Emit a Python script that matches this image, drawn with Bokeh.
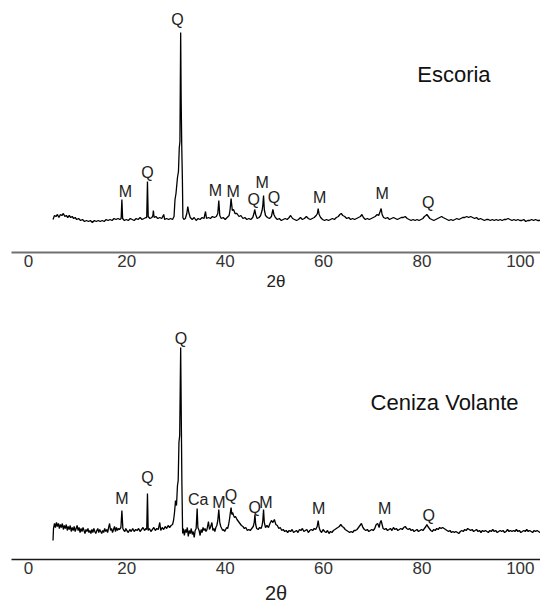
from bokeh.plotting import figure
from bokeh.models import Range1d, FixedTicker, ColumnDataSource
from bokeh.layouts import column
from bokeh.core.properties import value
from bokeh.embed import file_html
from bokeh.resources import INLINE

FONT = "Liberation Sans"

# ---------------- Escoria (top) : 2theta / intensity (a.u., baseline = 0) -------------
esc_theta = [
    5.0, 5.3, 5.6, 5.9, 6.2, 6.5, 6.8, 7.1, 7.4, 7.7,
    8.0, 8.3, 8.6, 8.9, 9.2, 9.5, 9.8, 10.2, 10.6, 11.0,
    11.4, 11.8, 12.2, 12.6, 13.0, 13.4, 13.8, 14.2, 14.6, 15.0,
    15.4, 15.8, 16.2, 16.6, 17.0, 17.4, 17.8, 18.2, 18.6, 18.85,
    19.0, 19.15, 19.5, 19.9, 20.3, 20.7, 21.1, 21.5, 21.9, 22.3,
    22.7, 23.1, 23.5, 23.9, 24.05, 24.2, 24.35, 24.7, 25.1, 25.3,
    25.4, 25.55, 25.9, 26.3, 26.7, 27.1, 27.5, 27.7, 28.1, 28.5,
    28.9, 29.3, 29.6, 29.8, 30.0, 30.3, 30.5, 30.67, 30.8, 30.95,
    31.05, 31.17, 31.3, 31.4, 31.6, 31.9, 32.2, 32.4, 32.6, 32.9,
    33.3, 33.7, 34.1, 34.5, 34.9, 35.3, 35.7, 36.0, 36.2, 36.6,
    37.0, 37.4, 37.8, 38.2, 38.5, 38.7, 38.9, 39.2, 39.6, 40.0,
    40.4, 40.8, 41.0, 41.2, 41.45, 41.7, 42.0, 42.4, 42.8, 43.2,
    43.6, 44.0, 44.4, 44.8, 45.2, 45.6, 45.85, 46.0, 46.2, 46.5,
    46.9, 47.2, 47.5, 47.65, 47.8, 47.95, 48.2, 48.6, 49.0, 49.4,
    49.7, 49.9, 50.2, 50.6, 51.0, 51.4, 51.8, 52.2, 52.6, 53.0,
    53.3, 53.7, 54.1, 54.5, 54.9, 55.3, 55.7, 56.1, 56.5, 56.9,
    57.3, 57.7, 58.1, 58.5, 58.75, 58.9, 59.1, 59.4, 59.8, 60.2,
    60.6, 61.0, 61.4, 61.8, 62.2, 62.6, 63.0, 63.3, 63.6, 63.9,
    64.3, 64.7, 65.1, 65.5, 65.9, 66.3, 66.7, 67.1, 67.5, 67.8,
    68.1, 68.5, 68.9, 69.3, 69.7, 70.1, 70.5, 70.9, 71.2, 71.5,
    71.7, 71.9, 72.2, 72.6, 73.0, 73.4, 73.8, 74.2, 74.6, 75.0,
    75.4, 75.8, 76.2, 76.6, 77.0, 77.4, 77.8, 78.2, 78.6, 79.0,
    79.4, 79.8, 80.2, 80.5, 80.8, 81.0, 81.3, 81.6, 82.0, 82.4,
    82.8, 83.2, 83.6, 84.0, 84.3, 84.7, 85.1, 85.5, 85.9, 86.3,
    86.7, 87.1, 87.5, 87.9, 88.3, 88.7, 89.1, 89.5, 89.9, 90.3,
    90.7, 91.1, 91.5, 91.9, 92.3, 92.7, 93.1, 93.5, 93.9, 94.3,
    94.7, 95.1, 95.5, 95.9, 96.3, 96.7, 97.1, 97.5, 97.9, 98.3,
    98.7, 99.1, 99.5, 99.9, 100.3, 100.7, 101.1, 101.5, 101.9, 102.3,
    102.7, 103.1, 103.5, 103.9, 104.3,
]
esc_int = [
    0, 4, 3, 5, 2, 5, 4, 6, 3, 4,
    2, 4, 2, 3, 1, 2, 0, 1, -1, 0,
    -2, -1, -2, -1, -3, -1, -2, -1, -2, -1,
    -2, 0, -1, 0, -1, 1, 0, 1, 0, 1,
    20, 1, -1, 0, -1, 1, 0, -1, 1, 0,
    2, 0, 1, 2, 2, 38, 3, 1, 2, 4,
    9, 2, 3, 1, 2, 1, 5, 0, 1, 0,
    1, 0, 3, 20, 26, 42, 48, 72, 78, 187,
    120, 73, 40, 2, 0, 1, 6, 13, 7, 2,
    0, 2, -1, 1, 0, 2, 1, 8, 1, 2,
    1, 3, 2, 3, 6, 19, 4, 1, 2, 0,
    2, 4, 10, 21, 9, 10, 6, 6, 3, 4,
    1, 2, 0, 1, 0, 2, 6, 10, 5, 1,
    2, 4, 9, 14, 24, 10, 4, 2, 1, 3,
    10, 5, 2, 0, 1, -1, 0, 1, 0, 2,
    4, 1, 0, -1, 0, 2, 0, 1, 3, 1,
    0, 1, 2, 4, 6, 11, 5, 2, 0, -1,
    0, -1, 0, 1, 0, 2, 3, 5, 6, 4,
    3, 1, 2, 0, 1, 0, 1, 2, 3, 5,
    2, 0, 1, 0, 1, 2, 3, 5, 4, 8,
    11, 5, 2, 1, 2, 0, 1, 2, 1, 0,
    1, 2, 2, 3, 1, 0, -1, 0, -1, 0,
    -1, 0, 1, 3, 4, 5, 3, 1, 0, -1,
    0, 1, 2, 3, 2, 1, 0, -1, 0, -1,
    0, 1, 0, 1, 2, 2, 3, 2, 3, 2,
    1, 2, 0, 1, 0, -1, 0, 0, -1, 0,
    -1, 0, -1, 0, -1, 0, 0, 1, 0, -1,
    0, -1, 0, -1, -1, 0, -2, -1, -1, 0,
    -1, 0, -1, -1, 0,
]
esc_labels = ["M", "Q", "Q", "M", "M", "Q", "M", "Q", "M", "M", "Q"]
esc_label_x = [19.7, 24.2, 30.3, 38.0, 41.6, 45.8, 47.5, 49.9, 59.2, 71.9, 81.3]
esc_label_y = [28, 47, 200, 29, 28, 20, 37, 22, 22, 26, 17]
esc_title = "Escoria"
esc_title_x, esc_title_y = 86.5, 145

# ---------------- Ceniza Volante (bottom) ----------------
cv_theta = [
    5.0, 5.1, 5.3, 5.5, 5.7, 5.9, 6.1, 6.3, 6.5, 6.7,
    6.9, 7.1, 7.3, 7.5, 7.7, 7.9, 8.1, 8.3, 8.5, 8.7,
    8.9, 9.1, 9.3, 9.5, 9.7, 9.9, 10.1, 10.3, 10.5, 10.7,
    10.9, 11.1, 11.3, 11.5, 11.7, 11.9, 12.1, 12.3, 12.5, 12.7,
    12.9, 13.1, 13.3, 13.5, 13.7, 13.9, 14.1, 14.3, 14.5, 14.7,
    14.9, 15.1, 15.3, 15.5, 15.7, 15.9, 16.1, 16.3, 16.5, 16.7,
    16.9, 17.1, 17.3, 17.5, 17.7, 17.9, 18.1, 18.3, 18.5, 18.8,
    19.0, 19.2, 19.4, 19.6, 19.8, 20.0, 20.3, 20.6, 20.9, 21.2,
    21.5, 21.8, 22.1, 22.4, 22.7, 23.0, 23.3, 23.6, 23.9, 24.05,
    24.2, 24.35, 24.6, 24.9, 25.2, 25.5, 25.8, 26.1, 26.4, 26.7,
    26.9, 27.2, 27.5, 27.8, 28.1, 28.4, 28.7, 29.0, 29.3, 29.5,
    29.7, 29.9, 30.1, 30.3, 30.45, 30.6, 30.75, 30.95, 31.1, 31.2,
    31.35, 31.5, 31.7, 31.9, 32.1, 32.3, 32.5, 32.7, 32.9, 33.1,
    33.3, 33.5, 33.7, 33.9, 34.1, 34.3, 34.45, 34.7, 34.9, 35.1,
    35.3, 35.5, 35.7, 35.9, 36.1, 36.3, 36.6, 36.8, 37.0, 37.3,
    37.5, 37.7, 37.9, 38.1, 38.3, 38.5, 38.7, 38.9, 39.1, 39.3,
    39.5, 39.7, 39.9, 40.1, 40.3, 40.5, 40.7, 40.9, 41.05, 41.2,
    41.35, 41.5, 41.7, 41.9, 42.1, 42.4, 42.7, 43.0, 43.3, 43.6,
    43.9, 44.2, 44.5, 44.8, 45.1, 45.4, 45.7, 45.9, 46.05, 46.2,
    46.4, 46.7, 47.0, 47.3, 47.5, 47.65, 47.8, 47.95, 48.2, 48.5,
    48.8, 49.1, 49.4, 49.7, 50.0, 50.3, 50.6, 50.9, 51.2, 51.5,
    51.8, 52.1, 52.4, 52.7, 53.0, 53.3, 53.6, 53.9, 54.2, 54.5,
    54.8, 55.1, 55.4, 55.7, 56.0, 56.3, 56.6, 56.9, 57.2, 57.5,
    57.8, 58.1, 58.4, 58.7, 58.9, 59.1, 59.3, 59.6, 59.9, 60.2,
    60.5, 60.8, 61.1, 61.4, 61.7, 62.0, 62.3, 62.6, 62.9, 63.2,
    63.5, 63.8, 64.1, 64.4, 64.7, 65.0, 65.3, 65.6, 65.9, 66.2,
    66.5, 66.8, 67.1, 67.4, 67.7, 68.0, 68.3, 68.6, 68.9, 69.2,
    69.5, 69.8, 70.1, 70.4, 70.7, 71.0, 71.3, 71.5, 71.7, 71.9,
    72.1, 72.4, 72.7, 73.0, 73.3, 73.6, 73.9, 74.2, 74.5, 74.8,
    75.1, 75.4, 75.7, 76.0, 76.3, 76.6, 76.9, 77.2, 77.5, 77.8,
    78.1, 78.4, 78.7, 79.0, 79.3, 79.6, 79.9, 80.2, 80.5, 80.8,
    81.0, 81.2, 81.5, 81.8, 82.1, 82.4, 82.7, 83.0, 83.3, 83.6,
    83.9, 84.2, 84.5, 84.8, 85.1, 85.4, 85.7, 86.0, 86.3, 86.6,
    86.9, 87.2, 87.5, 87.8, 88.1, 88.4, 88.7, 89.0, 89.3, 89.6,
    89.9, 90.2, 90.5, 90.8, 91.1, 91.4, 91.7, 92.0, 92.3, 92.6,
    92.9, 93.2, 93.5, 93.8, 94.1, 94.4, 94.7, 95.0, 95.3, 95.6,
    95.9, 96.2, 96.5, 96.8, 97.1, 97.4, 97.7, 98.0, 98.3, 98.6,
    98.9, 99.2, 99.5, 99.8, 100.1, 100.4, 100.7, 101.0, 101.3, 101.6,
    101.9, 102.2, 102.5, 102.8, 103.1, 103.4, 103.7, 104.0, 104.3,
]
cv_int = [
    -10, 2, 7, 3, 8, 4, 7, 2, 6, 3,
    7, 1, 5, 2, 6, 0, 4, 1, 5, -1,
    3, 0, 4, -1, 2, 5, 0, 3, -2, 2,
    -1, 3, 0, -3, 1, -1, 2, -2, 0, -3,
    1, -2, 2, -1, -3, 0, 2, -2, 1, -1,
    -3, 0, -2, 2, -1, 1, -2, 3, 7, 0,
    2, -2, 1, 4, -1, 3, 0, 2, 1, 3,
    20, 2, 0, -1, 2, 0, -2, 1, -1, 2,
    -1, 1, 0, 2, -1, 1, 3, 0, 2, 1,
    37, 0, 2, -1, 1, 3, 0, 2, 1, 8,
    0, 3, 1, 4, 2, 5, 3, 5, 6, 10,
    18, 30, 25, 45, 50, 88, 95, 183, 100, 47,
    -3, 2, -5, 1, -2, 3, -6, 0, -3, 2,
    -4, -1, -7, 0, 2, 22, 3, 0, -5, 1,
    -2, 3, 0, 2, -1, 1, 9, 1, 3, 8,
    0, 2, -1, 3, 5, 10, 21, 8, 4, 2,
    0, 1, -1, 1, 3, 2, 6, 12, 18, 23,
    16, 18, 15, 13, 14, 11, 9, 7, 5, 4,
    2, 3, 0, 1, 0, 2, 4, 8, 16, 6,
    2, 1, 3, 2, 5, 10, 21, 8, 3, 5,
    3, 7, 10, 8, 11, 6, 5, 2, 3, 0,
    1, -1, 0, -2, 0, -1, 1, -2, -1, 0,
    -2, 1, 0, 2, -1, 0, 1, -2, 0, 1,
    0, 2, 1, 4, 10, 3, 0, -2, 1, -1,
    -2, 0, -3, -1, -2, 0, 1, 2, 3, 4,
    6, 4, 3, 1, 0, -1, -2, -1, -2, 0,
    0, 1, 3, 5, 7, 3, 1, 0, 1, -1,
    0, 1, 0, 2, 6, 7, 3, 8, 10, 6,
    2, 1, 2, 0, 1, 2, 0, 3, 1, 2,
    0, 1, 2, 1, 3, 4, 2, 1, 2, 0,
    1, -1, 0, 1, -1, 0, 1, 0, 2, 4,
    6, 4, 2, 0, -1, 1, 0, 2, 1, 3,
    2, 3, 2, 1, 0, -1, 0, -2, -1, -2,
    -1, -2, -3, -1, 0, -1, 1, 0, 2, 1,
    0, 1, -1, 0, 1, -1, 0, -2, 0, -1,
    0, -1, -2, 0, -1, 1, -1, 0, -2, -1,
    0, -1, 0, -2, -1, 1, -1, 0, -1, 0,
    -1, 1, -1, 0, -2, -1, 0, -1, 1, -1,
    0, -1, -2, 0, -1, 0, -1, -2, 0,
]
cv_labels = ["M", "Q", "Q", "Ca", "M", "Q", "Q", "M", "M", "M", "Q"]
cv_label_x = [19.0, 24.2, 31.0, 34.5, 38.7, 41.2, 46.0, 48.3, 59.0, 72.4, 81.4]
cv_label_y = [32, 53, 192, 31, 28, 35, 23, 28, 22, 22, 15]
cv_title = "Ceniza Volante"
cv_title_x, cv_title_y = 84.6, 128

x_ticks = [0, 20, 40, 60, 80, 100]
x_label = "2θ"


def make_panel(theta, inten, labels, lx, ly, title, tx, ty, height, yr,
               axis_color, axis_width, label_size, label_standoff, top_border):
    p = figure(width=540, height=height, output_backend="svg", toolbar_location=None,
               x_range=Range1d(-3.44, 104.1), y_range=Range1d(*yr),
               y_axis_location=None, min_border_left=11, min_border_right=0,
               min_border_top=top_border, min_border_bottom=48)
    p.outline_line_color = None
    p.grid.visible = False
    p.background_fill_color = "white"
    p.border_fill_color = "white"
    p.line(theta, inten, line_color="black", line_width=1.3)
    src = ColumnDataSource(dict(x=lx, y=ly, t=labels))
    p.text(x="x", y="y", text="t", source=src, text_font=value(FONT),
           text_font_size="16px", text_align="center", text_baseline="middle",
           text_color="#222222")
    p.text(x=[tx], y=[ty], text=[title], text_font=value(FONT),
           text_font_size="22px", text_align="center", text_baseline="middle",
           text_color="#111111")
    ax = p.xaxis[0]
    ax.ticker = FixedTicker(ticks=x_ticks)
    ax.minor_tick_line_color = None
    ax.major_tick_line_color = None
    ax.major_tick_out = 0
    ax.major_tick_in = 0
    ax.axis_line_color = axis_color
    ax.axis_line_width = axis_width
    ax.major_label_text_font = FONT
    ax.major_label_text_font_size = "17px"
    ax.major_label_text_color = "#333333"
    ax.major_label_standoff = 2
    ax.axis_label = x_label
    ax.axis_label_text_font = FONT
    ax.axis_label_text_font_style = "normal"
    ax.axis_label_text_font_size = label_size
    ax.axis_label_text_color = "#222222"
    ax.axis_label_standoff = label_standoff
    return p


p1 = make_panel(esc_theta, esc_int, esc_labels, esc_label_x, esc_label_y,
                esc_title, esc_title_x, esc_title_y, 300, (-33, 211),
                "#707070", 2, "17px", 2, 8)
p2 = make_panel(cv_theta, cv_int, cv_labels, cv_label_x, cv_label_y,
                cv_title, cv_title_x, cv_title_y, 307, (-29, 230),
                "#1a1a1a", 1.5, "20px", 5, 0)

layout = column(p1, p2, spacing=0)
open("out.html", "w").write(file_html(layout, INLINE))
